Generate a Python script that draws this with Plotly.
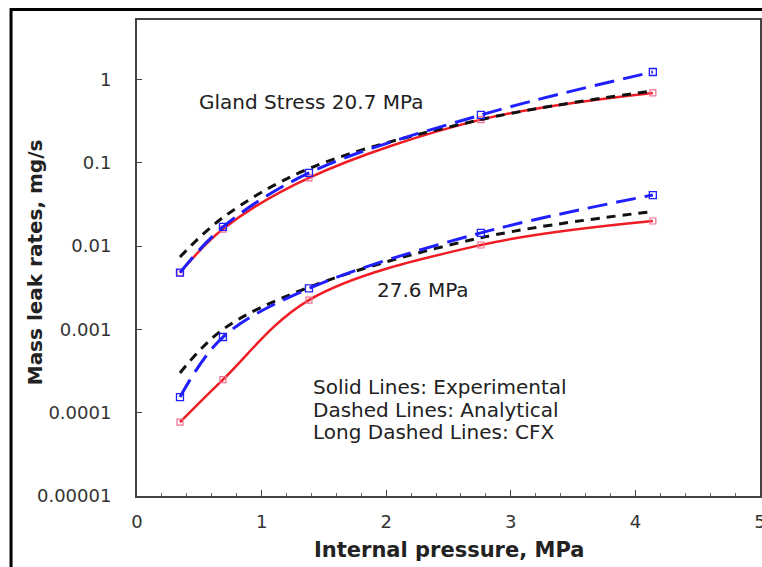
import plotly.graph_objects as go

pressure = [0.345, 0.69, 1.38, 2.76, 4.14]

# Gland stress 20.7 MPa
exp_207 = [0.0048, 0.016, 0.066, 0.33, 0.69]
ana_207 = [0.0074, 0.022, 0.085, 0.33, 0.73]
cfx_207 = [0.0048, 0.017, 0.0755, 0.375, 1.23]

# Gland stress 27.6 MPa
exp_276 = [7.7e-5, 2.5e-4, 0.00225, 0.0103, 0.020]
ana_276 = [3.0e-4, 1.0e-3, 0.0032, 0.0126, 0.026]
cfx_276 = [1.54e-4, 8.1e-4, 0.0031, 0.0144, 0.041]

y_tickvals = [1e-5, 1e-4, 1e-3, 1e-2, 1e-1, 1]
y_ticktext = ["0.00001", "0.0001", "0.001", "0.01", "0.1", "1"]
x_tickvals = [0, 1, 2, 3, 4, 5]

RED = "#f01c24"
BLUE = "#1f1fff"
BLACK = "#111111"
FONT = "DejaVu Sans"

fig = go.Figure()

def add_exp(y):
    fig.add_trace(go.Scatter(
        x=pressure, y=y, mode="lines+markers", line=dict(color=RED, width=2.5, shape="spline"),
        marker=dict(symbol="square-open", size=6, color="#f07090", line=dict(width=1.2)),
        showlegend=False))

def add_ana(y):
    fig.add_trace(go.Scatter(
        x=pressure, y=y, mode="lines", line=dict(color=BLACK, width=3, shape="spline", dash="9px,7px"),
        showlegend=False))

def add_cfx(y):
    fig.add_trace(go.Scatter(
        x=pressure, y=y, mode="lines+markers", line=dict(color=BLUE, width=3, shape="spline", dash="20px,9px"),
        marker=dict(symbol="square-open", size=7, color=BLUE, line=dict(width=1.3)),
        showlegend=False))

add_exp(exp_207); add_ana(ana_207); add_cfx(cfx_207)
add_exp(exp_276); add_ana(ana_276); add_cfx(cfx_276)

annotations = [
    dict(x=0.48, y=-0.27, xref="x", yref="y", text="Gland Stress 20.7 MPa", showarrow=False,
         xanchor="left", yanchor="middle", font=dict(family=FONT, size=20, color="#222")),
    dict(x=1.91, y=-2.527, xref="x", yref="y", text="27.6 MPa", showarrow=False,
         xanchor="left", yanchor="middle", font=dict(family=FONT, size=20, color="#222")),
]
legend_lines = ["Solid Lines: Experimental", "Dashed Lines: Analytical", "Long Dashed Lines: CFX"]
legend_y = [-3.691, -3.962, -4.232]
for t, yy in zip(legend_lines, legend_y):
    annotations.append(dict(x=1.40, y=yy, xref="x", yref="y", text=t, showarrow=False,
                            xanchor="left", yanchor="middle",
                            font=dict(family=FONT, size=20, color="#222")))
# axis titles
annotations.append(dict(x=0.5, y=-0.113, xref="paper", yref="paper", text="<b>Internal pressure, MPa</b>",
                        showarrow=False, xanchor="center", yanchor="middle",
                        font=dict(family=FONT, size=21, color="#222")))
annotations.append(dict(x=-0.1645, y=0.49, xref="paper", yref="paper", text="<b>Mass leak rates, mg/s</b>",
                        showarrow=False, xanchor="center", yanchor="middle", textangle=-90,
                        font=dict(family=FONT, size=20, color="#222")))

fig.update_layout(
    width=762, height=567,
    margin=dict(l=137, r=2, t=20, b=71, autoexpand=False),
    paper_bgcolor="white", plot_bgcolor="white",
    font=dict(family=FONT, size=18, color="#333"),
    annotations=annotations,
    shapes=[dict(type="rect", xref="paper", yref="paper", x0=-0.2022, x1=1.03, y0=-0.2, y1=1.022,
                 line=dict(color="black", width=3), fillcolor="rgba(0,0,0,0)", layer="above")],
)
fig.update_xaxes(range=[0, 5], tickvals=x_tickvals, ticks="inside", ticklen=6, tickcolor="#444",
                 showline=True, linecolor="#444", linewidth=2, mirror=True, showgrid=False, zeroline=False,
                 minor=dict(dtick=0.2, ticks="inside", ticklen=3, tickcolor="#666"),
                 ticklabeloverflow="allow", automargin=False,
                 ticklabelstandoff=8, tickfont=dict(family=FONT, size=18, color="#333"))
fig.update_yaxes(type="log", range=[-5, 0.714], tickvals=y_tickvals, ticktext=y_ticktext,
                 ticks="inside", ticklen=5, tickcolor="#444", automargin=False,
                 showline=True, linecolor="#444", linewidth=2, mirror=True, showgrid=False, zeroline=False,
                 ticklabelstandoff=20, tickfont=dict(family=FONT, size=18, color="#333"))

fig.write_html("out.html", config={"displayModeBar": False},
               post_script="document.body.style.margin='0';document.body.style.overflow='hidden';")
